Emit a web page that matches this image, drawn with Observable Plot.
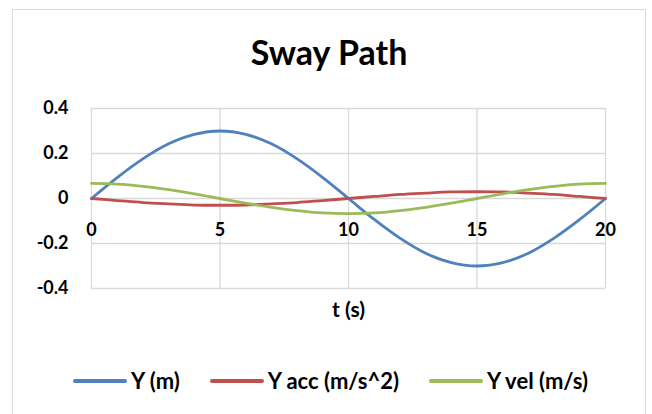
<!DOCTYPE html>
<html>
<head>
<meta charset="utf-8">
<script src="https://cdn.jsdelivr.net/npm/d3@7"></script>
<script src="https://cdn.jsdelivr.net/npm/@observablehq/plot@0.6"></script>
<style>
  html, body { margin: 0; padding: 0; background: #fff; }
  #wrap { position: relative; width: 652px; height: 414px; overflow: hidden; font-family: Lato, "Open Sans", sans-serif; }
  #frame { position: absolute; left: 12px; top: 9px; width: 634px; height: 420px; border: 1.5px solid #d9d9d9; box-sizing: border-box; }
  #title { position: absolute; left: 13px; width: 632px; top: 34px; text-align: center; font-weight: 700; font-size: 34px; line-height: 36px; color: #000; }
  #chart { position: absolute; left: 0; top: 0; }
  #legend { position: absolute; left: 73px; top: 369px; display: flex; align-items: center; gap: 30px; font-weight: 700; font-size: 22px; line-height: 24px; color: #000; }
  .item { display: flex; align-items: center; gap: 4px; }
  .swatch { width: 54px; height: 3.5px; border-radius: 2px; }
</style>
</head>
<body>
<div id="wrap">
  <div id="frame"></div>
  <div id="title">Sway Path</div>
  <div id="chart"></div>
  <div id="legend"></div>
</div>
<script>
// Time (s)
const t = [0,1,2,3,4,5,6,7,8,9,10,11,12,13,14,15,16,17,18,19,20];
// Y (m)
const yPos = [0,0.093,0.176,0.243,0.285,0.3,0.285,0.243,0.176,0.093,0,-0.093,-0.176,-0.243,-0.285,-0.3,-0.285,-0.243,-0.176,-0.093,0];
// Y acc (m/s^2)
const yAcc = [0,-0.009,-0.018,-0.024,-0.029,-0.03,-0.029,-0.024,-0.018,-0.009,0,0.009,0.018,0.024,0.029,0.03,0.029,0.024,0.018,0.009,0];
// Y vel (m/s)
const yVel = [0.067,0.064,0.054,0.039,0.021,0,-0.021,-0.039,-0.054,-0.064,-0.067,-0.064,-0.054,-0.039,-0.021,0,0.021,0.039,0.054,0.064,0.067];

const seriesNames = ["Y (m)", "Y acc (m/s^2)", "Y vel (m/s)"];
const seriesColors = ["#4F81BD", "#C0504D", "#9BBB59"];
const xTicks = [0,5,10,15,20];
const yTicks = [-0.4,-0.2,0,0.2,0.4];
const xLabel = "t (s)";

const seriesValues = [yPos, yAcc, yVel];
const rows = [];
seriesNames.forEach((name, i) => {
  t.forEach((tt, j) => rows.push({series: name, t: tt, v: seriesValues[i][j]}));
});

const chart = Plot.plot({
  width: 652,
  height: 330,
  marginLeft: 91,
  marginRight: 47,
  marginTop: 108,
  marginBottom: 42,
  style: { fontFamily: 'Lato, "Open Sans", sans-serif', fontSize: "18px", fontWeight: 700, color: "#000", background: "transparent", overflow: "visible" },
  x: { domain: [0, 20], axis: null },
  y: { domain: [-0.4, 0.4], axis: null },
  color: { domain: seriesNames, range: seriesColors },
  marks: [
    Plot.gridX(xTicks, { stroke: "#d9d9d9", strokeOpacity: 1, strokeWidth: 1.3 }),
    Plot.gridY(yTicks, { stroke: "#d9d9d9", strokeOpacity: 1, strokeWidth: 1.3 }),
    Plot.axisY(yTicks, { tickSize: 0, tickPadding: 23, tickFormat: d => d === 0 ? "0" : d.toFixed(1), fill: "#000", label: null }),
    Plot.text(xTicks, { x: d => d, y: 0, dy: 32, text: d => String(d), fill: "#000" }),
    Plot.text([xLabel], { frameAnchor: "bottom", lineAnchor: "middle", dy: 22, text: d => d, fill: "#000", fontSize: 21 }),
    Plot.line(rows, { x: "t", y: "v", z: "series", stroke: "series", strokeWidth: 2.8, curve: "catmull-rom" })
  ]
});
document.getElementById("chart").appendChild(chart);

const legend = document.getElementById("legend");
seriesNames.forEach((name, i) => {
  const item = document.createElement("div");
  item.className = "item";
  const sw = document.createElement("div");
  sw.className = "swatch";
  sw.style.background = seriesColors[i];
  const lab = document.createElement("span");
  lab.textContent = name;
  item.appendChild(sw);
  item.appendChild(lab);
  legend.appendChild(item);
});
</script>
</body>
</html>
